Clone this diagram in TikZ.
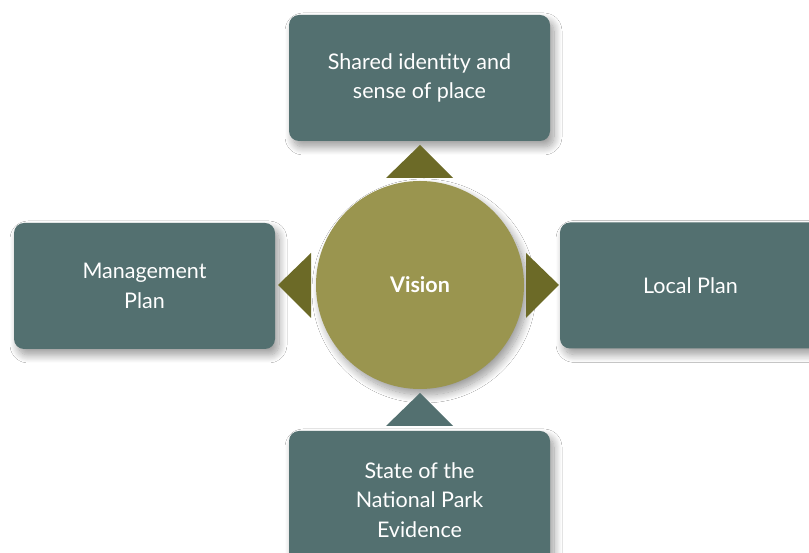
\documentclass[tikz,border=0pt]{standalone}
\usepackage{fontspec}
\setmainfont{Lato}
\usetikzlibrary{shadows.blur}
\definecolor{boxc}{HTML}{537070}
\definecolor{circc}{HTML}{9A954F}
\definecolor{olive}{HTML}{6C6A27}
\begin{document}
\begin{tikzpicture}[x=1pt,y=1pt,
  shad/.style={blur shadow={shadow xshift=4pt,shadow yshift=-6pt,shadow blur radius=8pt,shadow blur steps=14,shadow opacity=40}},
  box/.style={shad,fill=boxc,rounded corners=10pt,minimum width=261pt,minimum height=126pt,
    text=white,align=center,font=\fontsize{21.5}{29.5}\selectfont,inner sep=0pt},
  hub/.style={shad,circle,fill=circc,minimum size=208pt,inner sep=0pt,text=white,font=\fontsize{21.5}{29}\selectfont\bfseries},
  tri/.style={fill=olive},
  tri2/.style={fill=boxc}]
\useasboundingbox (0,0) rectangle (809,553);
\fill[white] (0,0) rectangle (809,553);
\node[box] (top) at (419.5,475) {Shared identity and\\sense of place};
\node[box] (left) at (144.5,267) {Management\\Plan};
\node[box] (right) at (690.5,267.5) {Local Plan};
\node[box,minimum height=138pt] (bottom) at (419.5,53) {State of the\\National Park\\Evidence};
\node[hub] (vision) at (420,268) {Vision};
\fill[tri] (386,375) -- (420,408) -- (453,375) -- cycle;
\fill[tri] (311,235) -- (278,268) -- (311,300) -- cycle;
\fill[tri] (526,235) -- (559,268) -- (526,300) -- cycle;
\fill[tri2] (386,127) -- (420,160) -- (453,127) -- cycle;
\end{tikzpicture}
\end{document}
